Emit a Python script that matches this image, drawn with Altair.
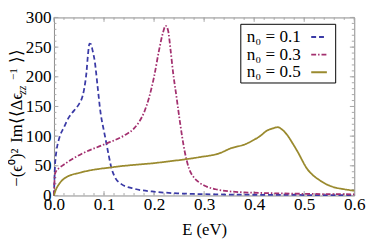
import altair as alt
import pandas as pd
import numpy as np

# ---- data ----
series_names = ["n₀ = 0.1", "n₀ = 0.3", "n₀ = 0.5"]

blue_x = [0, 0.002, 0.005, 0.01, 0.02, 0.03, 0.04, 0.05, 0.055, 0.06, 0.065, 0.068, 0.071, 0.074,
          0.077, 0.0815, 0.087, 0.093, 0.1, 0.104, 0.11, 0.114, 0.12, 0.134, 0.16, 0.205, 0.25,
          0.3, 0.4, 0.5, 0.6]
blue_y = [0, 50, 75, 95, 115, 132, 143, 154, 162, 178, 208, 238, 256, 255,
          245, 226, 185, 140, 108, 91, 65, 49, 34, 19.5, 11.5, 6, 3.5,
          2.2, 1.2, 0.8, 0.5]

red_x = [0, 0.002, 0.005, 0.01, 0.023, 0.055, 0.1, 0.14, 0.16, 0.17, 0.18, 0.19, 0.2, 0.21,
         0.218, 0.223, 0.228, 0.233, 0.238, 0.245, 0.251, 0.261, 0.27, 0.28, 0.29, 0.305,
         0.323, 0.35, 0.388, 0.44, 0.5, 0.6]
red_y = [0, 36, 42, 46, 54, 70, 86, 101, 113, 124, 140, 165, 200, 245,
         275, 286, 278, 245, 207, 165, 128, 75, 45, 30, 22, 15,
         10.5, 7, 5, 3.7, 2.8, 2]

gold_x = [0, 0.003, 0.01, 0.023, 0.055, 0.12, 0.205, 0.225, 0.29, 0.33, 0.355, 0.381, 0.4,
          0.41, 0.427, 0.437, 0.447, 0.456, 0.466, 0.476, 0.486, 0.505, 0.532, 0.558, 0.58, 0.6]
gold_y = [0, 8, 19, 30, 39, 48, 55, 57, 64.5, 71, 80, 86, 94,
          99, 110, 113, 115, 111, 102, 89, 75, 46, 25, 14.3, 10.5, 8]

x_major = [0.0, 0.1, 0.2, 0.3, 0.4, 0.5, 0.6]
y_major = [0, 50, 100, 150, 200, 250, 300]
x_minor = [round(v, 2) for v in np.arange(0, 0.6001, 0.02)]
y_minor = list(range(0, 301, 10))

# y-axis title split into normal / subscript / superscript pieces
title_parts = ["−(ϵ⁰)²", "Im⟨⟨Δϵ", "zz", "−1", "⟩⟩"]

colors = ["#3a3aa6", "#a3306f", "#9a8a2e"]
dashes = [[5, 3], [5, 2, 1.5, 2], [1, 0]]

W, H = 307, 182
FONT = "Liberation Serif"
FS = 17.5

xs = alt.Scale(domain=[0, 0.6], nice=False, zero=False)
ys = alt.Scale(domain=[0, 300], nice=False)

ax_x = alt.Axis(values=x_major, format=".1f", title="E (eV)", ticks=False,
                domain=False, grid=False, labelFont=FONT, labelFontSize=FS,
                labelColor="black", labelPadding=0, titleFont=FONT,
                titleFontSize=17, titleFontWeight="normal", titleColor="black",
                titlePadding=9, labelFlush=False)
ax_y = alt.Axis(values=y_major, format="d", title=None, ticks=False,
                domain=False, grid=False, labelFont=FONT, labelFontSize=FS,
                labelColor="black", labelPadding=3, labelFlush=False)

layers = []
for name, xv, yv, c, d in zip(series_names, [blue_x, red_x, gold_x], [blue_y, red_y, gold_y], colors, dashes):
    df = pd.DataFrame({"E": xv, "v": yv})
    layers.append(
        alt.Chart(df).mark_line(color=c, strokeDash=d, strokeWidth=1.8, interpolate="monotone")
        .encode(x=alt.X("E:Q", scale=xs, axis=ax_x), y=alt.Y("v:Q", scale=ys, axis=ax_y))
    )

tick_color = "#a8a8a8"
def xticks(vals, length):
    d = pd.DataFrame({"E": vals})
    b = alt.Chart(d).mark_rule(color=tick_color, strokeWidth=1).encode(
        x=alt.X("E:Q", scale=xs, axis=ax_x), y=alt.value(H), y2=alt.value(H - length))
    t = alt.Chart(d).mark_rule(color=tick_color, strokeWidth=1).encode(
        x=alt.X("E:Q", scale=xs, axis=ax_x), y=alt.value(0), y2=alt.value(length))
    return [b, t]

def yticks(vals, length):
    d = pd.DataFrame({"v": vals})
    l = alt.Chart(d).mark_rule(color=tick_color, strokeWidth=1).encode(
        y=alt.Y("v:Q", scale=ys, axis=ax_y), x=alt.value(0), x2=alt.value(length))
    r = alt.Chart(d).mark_rule(color=tick_color, strokeWidth=1).encode(
        y=alt.Y("v:Q", scale=ys, axis=ax_y), x=alt.value(W), x2=alt.value(W - length))
    return [l, r]

tick_layers = xticks(x_minor, 2.5) + xticks(x_major, 4.5) + yticks(y_minor, 2.5) + yticks(y_major, 4.5)

# legend
leg_x0, leg_x1, leg_y0, leg_y1 = 191, 288, 7, 67
row_y = [20, 38, 56]
legend_layers = [
    alt.Chart(pd.DataFrame({"a": [0]})).mark_rect(fill="white", stroke="black", strokeWidth=1).encode(
        x=alt.value(leg_x0), x2=alt.value(leg_x1), y=alt.value(leg_y0), y2=alt.value(leg_y1))
]
for name, c, d, ry in zip(series_names, colors, dashes, row_y):
    legend_layers.append(
        alt.Chart(pd.DataFrame({"lab": [name]})).mark_text(align="left", baseline="middle", font=FONT,
                                                           fontSize=17.5, color="black")
        .encode(x=alt.value(197), y=alt.value(ry), text="lab:N"))
    legend_layers.append(
        alt.Chart(pd.DataFrame({"a": [0]})).mark_rule(color=c, strokeDash=d, strokeWidth=2)
        .encode(x=alt.value(263), x2=alt.value(279), y=alt.value(ry)))

# y title pieces (rotated): (text, start y, baseline x, size, style)
piece_specs = [
    (title_parts[0], 173, -33, 17, "normal"),
    (title_parts[1], 128, -33, 17, "normal"),
    (title_parts[2], 79, -29, 12, "italic"),
    (title_parts[3], 64, -38, 11.5, "normal"),
    (title_parts[4], 47, -33, 17, "normal"),
]
title_layers = []
for txt, yy, xx, fs, st in piece_specs:
    title_layers.append(
        alt.Chart(pd.DataFrame({"s": [txt]})).mark_text(angle=270, align="left", baseline="alphabetic",
                                                        font=FONT, fontSize=fs, fontStyle=st, color="black")
        .encode(x=alt.value(xx), y=alt.value(yy), text="s:N"))

chart = alt.layer(*tick_layers, *layers, *legend_layers, *title_layers).properties(
    width=W, height=H,
    autosize=alt.AutoSizeParams(type="none"),
    padding={"left": 47, "top": 7, "right": 12, "bottom": 50},
).configure_view(stroke="#8a8a8a", strokeWidth=1)

chart.save("out.html", embed_options={"renderer": "svg", "actions": False})
